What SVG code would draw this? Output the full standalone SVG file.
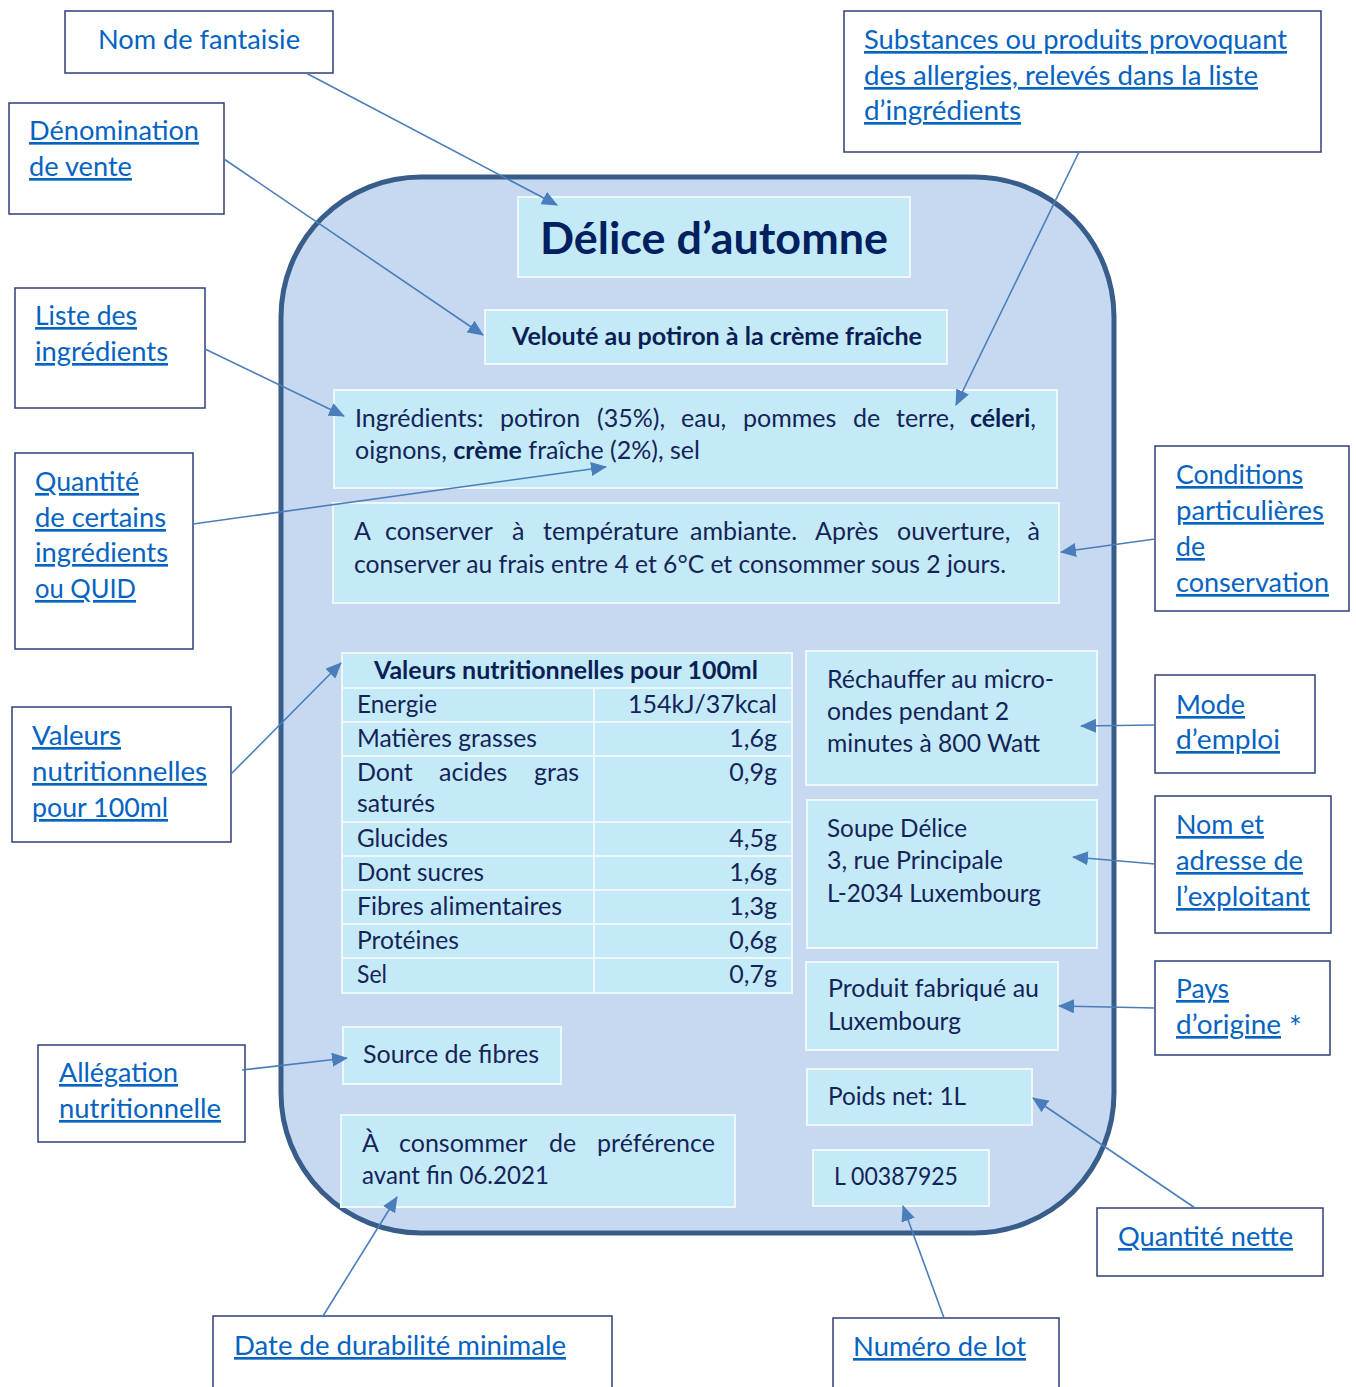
<svg xmlns="http://www.w3.org/2000/svg" width="1356" height="1387" viewBox="0 0 1356 1387">
<style>
.lbox{fill:#ffffff;stroke:#2E3F78;stroke-width:1.5}
.ibox{fill:#C5EAF7;stroke:#EDF7FC;stroke-width:2}
.lbl{font-family:Lato,"Liberation Sans",sans-serif;font-size:26.5px;fill:#0563C1;text-decoration:underline}
.plain{text-decoration:none}
.t{font-family:Lato,"Liberation Sans",sans-serif;font-size:25px;fill:#142459}
.b{font-weight:bold;fill:#0B1F55}
.title{font-family:Lato,"Liberation Sans",sans-serif;font-size:44px;font-weight:bold;fill:#002060}
.num{text-anchor:end}
.conn line{stroke:#4A7EBB;stroke-width:1.6;marker-end:url(#ah)}
.grid line{stroke:#EDF7FC;stroke-width:2}
</style>
<defs>
<marker id="ah" markerUnits="userSpaceOnUse" viewBox="0 0 16 14" markerWidth="16" markerHeight="14" refX="15" refY="7" orient="auto">
<path d="M0,0 L16,7 L0,14 z" fill="#4A7EBB"/>
</marker>
</defs>
<rect width="1356" height="1387" fill="#ffffff"/>

<g id="label-panel">
<rect x="281" y="177" width="833" height="1056" rx="140" ry="140" fill="#C6D9F0" stroke="#385D8A" stroke-width="5"/>
</g>

<g id="n-titre">
<rect class="ibox" x="518" y="197" width="392" height="80"/>
<text class="title" x="714" y="254" text-anchor="middle" textLength="348" lengthAdjust="spacingAndGlyphs">Délice d’automne</text>
</g>
<g id="n-veloute">
<rect class="ibox" x="485" y="310" width="462" height="54"/>
<text class="t b" x="717" y="345" text-anchor="middle" textLength="410" lengthAdjust="spacingAndGlyphs">Velouté au potiron à la crème fraîche</text>
</g>
<g id="n-ingredients">
<rect class="ibox" x="334" y="390" width="723" height="98"/>
<text class="t" y="427"><tspan x="355">Ingrédients:</tspan><tspan x="500">potiron</tspan><tspan x="597">(35%),</tspan><tspan x="681">eau,</tspan><tspan x="743">pommes</tspan><tspan x="853">de</tspan><tspan x="896">terre,</tspan></text>
<text class="t" x="1036" y="427" text-anchor="end"><tspan class="b">céleri</tspan>,</text>
<text class="t" x="355" y="459" textLength="345" lengthAdjust="spacingAndGlyphs">oignons, <tspan class="b">crème</tspan> fraîche (2%), sel</text>
</g>
<g id="n-conservation">
<rect class="ibox" x="333" y="503" width="726" height="100"/>
<text class="t" y="540"><tspan x="354">A</tspan><tspan x="385">conserver</tspan><tspan x="512">à</tspan><tspan x="543">température</tspan><tspan x="690">ambiante.</tspan><tspan x="815">Après</tspan><tspan x="897">ouverture,</tspan></text>
<text class="t" x="1040" y="540" text-anchor="end">à</text>
<text class="t" x="354" y="573" textLength="652" lengthAdjust="spacingAndGlyphs">conserver au frais entre 4 et 6°C et consommer sous 2 jours.</text>
</g>
<g id="n-tableau">
<rect x="342" y="653" width="450" height="340" fill="#C5EAF7" stroke="#EDF7FC" stroke-width="2"/>
<g class="grid">
<line x1="342" y1="688" x2="792" y2="688"/>
<line x1="342" y1="722" x2="792" y2="722"/>
<line x1="342" y1="756" x2="792" y2="756"/>
<line x1="342" y1="822" x2="792" y2="822"/>
<line x1="342" y1="856" x2="792" y2="856"/>
<line x1="342" y1="890" x2="792" y2="890"/>
<line x1="342" y1="924" x2="792" y2="924"/>
<line x1="342" y1="958" x2="792" y2="958"/>
<line x1="594" y1="688" x2="594" y2="993"/>
</g>
<text class="t b" x="566" y="679" text-anchor="middle" textLength="384" lengthAdjust="spacingAndGlyphs">Valeurs nutritionnelles pour 100ml</text>
<text class="t" x="357" y="713" textLength="80" lengthAdjust="spacingAndGlyphs">Energie</text>
<text class="t num" x="777" y="713">154kJ/37kcal</text>
<text class="t" x="357" y="747" textLength="180" lengthAdjust="spacingAndGlyphs">Matières grasses</text>
<text class="t num" x="777" y="747">1,6g</text>
<text class="t" y="781"><tspan x="357">Dont</tspan><tspan x="439">acides</tspan><tspan x="534">gras</tspan></text>
<text class="t" x="357" y="812" textLength="78" lengthAdjust="spacingAndGlyphs">saturés</text>
<text class="t num" x="777" y="781">0,9g</text>
<text class="t" x="357" y="847" textLength="91" lengthAdjust="spacingAndGlyphs">Glucides</text>
<text class="t num" x="777" y="847">4,5g</text>
<text class="t" x="357" y="881" textLength="127" lengthAdjust="spacingAndGlyphs">Dont sucres</text>
<text class="t num" x="777" y="881">1,6g</text>
<text class="t" x="357" y="915" textLength="205" lengthAdjust="spacingAndGlyphs">Fibres alimentaires</text>
<text class="t num" x="777" y="915">1,3g</text>
<text class="t" x="357" y="949" textLength="102" lengthAdjust="spacingAndGlyphs">Protéines</text>
<text class="t num" x="777" y="949">0,6g</text>
<text class="t" x="357" y="983" textLength="30" lengthAdjust="spacingAndGlyphs">Sel</text>
<text class="t num" x="777" y="983">0,7g</text>
</g>
<g id="n-mode">
<rect class="ibox" x="806" y="651" width="291" height="134"/>
<text class="t" x="827" y="688" textLength="227" lengthAdjust="spacingAndGlyphs">Réchauffer au micro-</text>
<text class="t" x="827" y="720" textLength="182" lengthAdjust="spacingAndGlyphs">ondes pendant 2</text>
<text class="t" x="827" y="752" textLength="213" lengthAdjust="spacingAndGlyphs">minutes à 800 Watt</text>
</g>
<g id="n-adresse">
<rect class="ibox" x="807" y="800" width="290" height="148"/>
<text class="t" x="827" y="837" textLength="140" lengthAdjust="spacingAndGlyphs">Soupe Délice</text>
<text class="t" x="827" y="869" textLength="176" lengthAdjust="spacingAndGlyphs">3, rue Principale</text>
<text class="t" x="827" y="902" textLength="214" lengthAdjust="spacingAndGlyphs">L-2034 Luxembourg</text>
</g>
<g id="n-origine">
<rect class="ibox" x="806" y="962" width="252" height="88"/>
<text class="t" x="828" y="997" textLength="211" lengthAdjust="spacingAndGlyphs">Produit fabriqué au</text>
<text class="t" x="828" y="1030" textLength="133" lengthAdjust="spacingAndGlyphs">Luxembourg</text>
</g>
<g id="n-poids">
<rect class="ibox" x="807" y="1069" width="225" height="56"/>
<text class="t" x="828" y="1105" textLength="138" lengthAdjust="spacingAndGlyphs">Poids net: 1L</text>
</g>
<g id="n-lot">
<rect class="ibox" x="813" y="1150" width="176" height="56"/>
<text class="t" x="834" y="1185" textLength="124" lengthAdjust="spacingAndGlyphs">L 00387925</text>
</g>
<g id="n-fibres">
<rect class="ibox" x="343" y="1027" width="218" height="57"/>
<text class="t" x="363" y="1063" textLength="176" lengthAdjust="spacingAndGlyphs">Source de fibres</text>
</g>
<g id="n-ddm">
<rect class="ibox" x="341" y="1115" width="394" height="92"/>
<text class="t" y="1152"><tspan x="362">À</tspan><tspan x="399">consommer</tspan><tspan x="549">de</tspan></text>
<text class="t" x="715" y="1152" text-anchor="end">préférence</text>
<text class="t" x="362" y="1184" textLength="187" lengthAdjust="spacingAndGlyphs">avant fin 06.2021</text>
</g>

<g id="l-fantaisie">
<rect class="lbox" x="65" y="11" width="268" height="62"/>
<text class="lbl plain" x="98" y="49" textLength="202" lengthAdjust="spacingAndGlyphs">Nom de fantaisie</text>
</g>
<g id="l-denomination">
<rect class="lbox" x="9" y="103" width="215" height="111"/>
<text class="lbl" x="29" y="140" textLength="170" lengthAdjust="spacingAndGlyphs">Dénomination</text>
<text class="lbl" x="29" y="176" textLength="103" lengthAdjust="spacingAndGlyphs">de vente</text>
</g>
<g id="l-liste">
<rect class="lbox" x="15" y="288" width="190" height="120"/>
<text class="lbl" x="35" y="325" textLength="102" lengthAdjust="spacingAndGlyphs">Liste des</text>
<text class="lbl" x="35" y="361" textLength="133" lengthAdjust="spacingAndGlyphs">ingrédients</text>
</g>
<g id="l-quid">
<rect class="lbox" x="15" y="453" width="178" height="196"/>
<text class="lbl" x="35" y="491" textLength="104" lengthAdjust="spacingAndGlyphs">Quantité</text>
<text class="lbl" x="35" y="527" textLength="131" lengthAdjust="spacingAndGlyphs">de certains</text>
<text class="lbl" x="35" y="562" textLength="133" lengthAdjust="spacingAndGlyphs">ingrédients</text>
<text class="lbl" x="35" y="598" textLength="101" lengthAdjust="spacingAndGlyphs">ou QUID</text>
</g>
<g id="l-valeurs">
<rect class="lbox" x="12" y="707" width="219" height="135"/>
<text class="lbl" x="32" y="745" textLength="89" lengthAdjust="spacingAndGlyphs">Valeurs</text>
<text class="lbl" x="32" y="781" textLength="175" lengthAdjust="spacingAndGlyphs">nutritionnelles</text>
<text class="lbl" x="32" y="817" textLength="136" lengthAdjust="spacingAndGlyphs">pour 100ml</text>
</g>
<g id="l-allegation">
<rect class="lbox" x="38" y="1045" width="207" height="97"/>
<text class="lbl" x="59" y="1082" textLength="119" lengthAdjust="spacingAndGlyphs">Allégation</text>
<text class="lbl" x="59" y="1118" textLength="162" lengthAdjust="spacingAndGlyphs">nutritionnelle</text>
</g>
<g id="l-ddm">
<rect class="lbox" x="213" y="1316" width="399" height="80"/>
<text class="lbl" x="234" y="1355" textLength="332" lengthAdjust="spacingAndGlyphs">Date de durabilité minimale</text>
</g>
<g id="l-lot">
<rect class="lbox" x="833" y="1318" width="226" height="80"/>
<text class="lbl" x="853" y="1356" textLength="173" lengthAdjust="spacingAndGlyphs">Numéro de lot</text>
</g>
<g id="l-nette">
<rect class="lbox" x="1097" y="1208" width="226" height="68"/>
<text class="lbl" x="1118" y="1246" textLength="175" lengthAdjust="spacingAndGlyphs">Quantité nette</text>
</g>
<g id="l-pays">
<rect class="lbox" x="1155" y="961" width="175" height="94"/>
<text class="lbl" x="1176" y="998" textLength="53" lengthAdjust="spacingAndGlyphs">Pays</text>
<text class="lbl" x="1176" y="1034" textLength="105" lengthAdjust="spacingAndGlyphs">d’origine</text>
<text class="lbl plain" x="1289" y="1038" style="font-size:30px">*</text>
</g>
<g id="l-exploitant">
<rect class="lbox" x="1155" y="796" width="176" height="137"/>
<text class="lbl" x="1176" y="834" textLength="88" lengthAdjust="spacingAndGlyphs">Nom et</text>
<text class="lbl" x="1176" y="870" textLength="127" lengthAdjust="spacingAndGlyphs">adresse de</text>
<text class="lbl" x="1176" y="906" textLength="134" lengthAdjust="spacingAndGlyphs">l’exploitant</text>
</g>
<g id="l-mode">
<rect class="lbox" x="1155" y="675" width="160" height="98"/>
<text class="lbl" x="1176" y="714" textLength="69" lengthAdjust="spacingAndGlyphs">Mode</text>
<text class="lbl" x="1176" y="749" textLength="104" lengthAdjust="spacingAndGlyphs">d’emploi</text>
</g>
<g id="l-conditions">
<rect class="lbox" x="1155" y="446" width="194" height="165"/>
<text class="lbl" x="1176" y="484" textLength="127" lengthAdjust="spacingAndGlyphs">Conditions</text>
<text class="lbl" x="1176" y="520" textLength="148" lengthAdjust="spacingAndGlyphs">particulières</text>
<text class="lbl" x="1176" y="556" textLength="29" lengthAdjust="spacingAndGlyphs">de</text>
<text class="lbl" x="1176" y="592" textLength="153" lengthAdjust="spacingAndGlyphs">conservation</text>
</g>
<g id="l-allergenes">
<rect class="lbox" x="844" y="11" width="477" height="141"/>
<text class="lbl" x="864" y="49" textLength="423" lengthAdjust="spacingAndGlyphs">Substances ou produits provoquant</text>
<text class="lbl" x="864" y="85" textLength="394" lengthAdjust="spacingAndGlyphs">des allergies, relevés dans la liste</text>
<text class="lbl" x="864" y="120" textLength="157" lengthAdjust="spacingAndGlyphs">d’ingrédients</text>
</g>

<g id="connectors" class="conn">
<line x1="306" y1="73" x2="557" y2="205"/>
<line x1="224" y1="159" x2="483" y2="335"/>
<line x1="205" y1="349" x2="344" y2="416"/>
<line x1="193" y1="524" x2="606" y2="467"/>
<line x1="231" y1="774" x2="341" y2="663"/>
<line x1="242" y1="1070" x2="347" y2="1058"/>
<line x1="323" y1="1316" x2="397" y2="1197"/>
<line x1="944" y1="1318" x2="903" y2="1206"/>
<line x1="1195" y1="1208" x2="1033" y2="1098"/>
<line x1="1155" y1="1008" x2="1059" y2="1006"/>
<line x1="1155" y1="864" x2="1073" y2="857"/>
<line x1="1155" y1="725" x2="1081" y2="726"/>
<line x1="1155" y1="539" x2="1061" y2="552"/>
<line x1="1079" y1="152" x2="956" y2="405"/>
</g>
</svg>
